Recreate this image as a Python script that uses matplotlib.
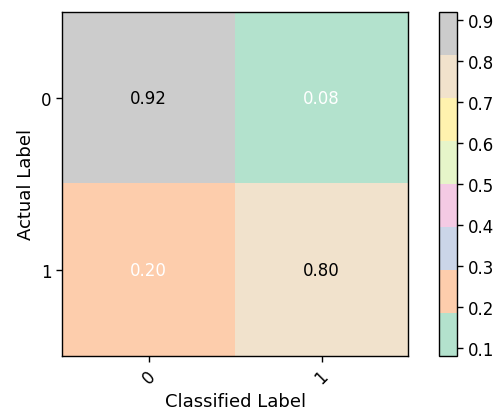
import matplotlib
matplotlib.use("Agg")
import matplotlib.pyplot as plt
import numpy as np

classes = ["0", "1"]
values = np.array([[0.92, 0.08],
                   [0.20, 0.80]])
text_colors = [["black", "white"], ["white", "black"]]

plt.rcParams["axes.linewidth"] = 1.0
plt.rcParams["xtick.major.size"] = 4.2
plt.rcParams["ytick.major.size"] = 4.2
plt.rcParams["xtick.major.width"] = 1.0
plt.rcParams["ytick.major.width"] = 1.0

fig = plt.figure(figsize=(4.93, 4.14), dpi=100)
ax = fig.add_axes([0.126, 0.138, 0.702, 0.831])
cax = fig.add_axes([0.890, 0.138, 0.037, 0.831])

im = ax.imshow(values, cmap="Pastel2", aspect="auto", interpolation="nearest")
cb = fig.colorbar(im, cax=cax)
cb.set_ticks([0.1, 0.2, 0.3, 0.4, 0.5, 0.6, 0.7, 0.8, 0.9])
cb.ax.tick_params(labelsize=12)
cb.outline.set_linewidth(1.0)

ax.set_xticks(range(len(classes)))
ax.set_xticklabels(classes, rotation=45)
ax.set_yticks(range(len(classes)))
ax.set_yticklabels(classes)
ax.tick_params(labelsize=12)
for i in range(values.shape[0]):
    for j in range(values.shape[1]):
        ax.text(j, i, f"{values[i, j]:.2f}", ha="center", va="center",
                color=text_colors[i][j], fontsize=12)
ax.set_xlabel("Classified Label", fontsize=13)
ax.set_ylabel("Actual Label", fontsize=13)

fig.savefig("out.png", dpi=100)
